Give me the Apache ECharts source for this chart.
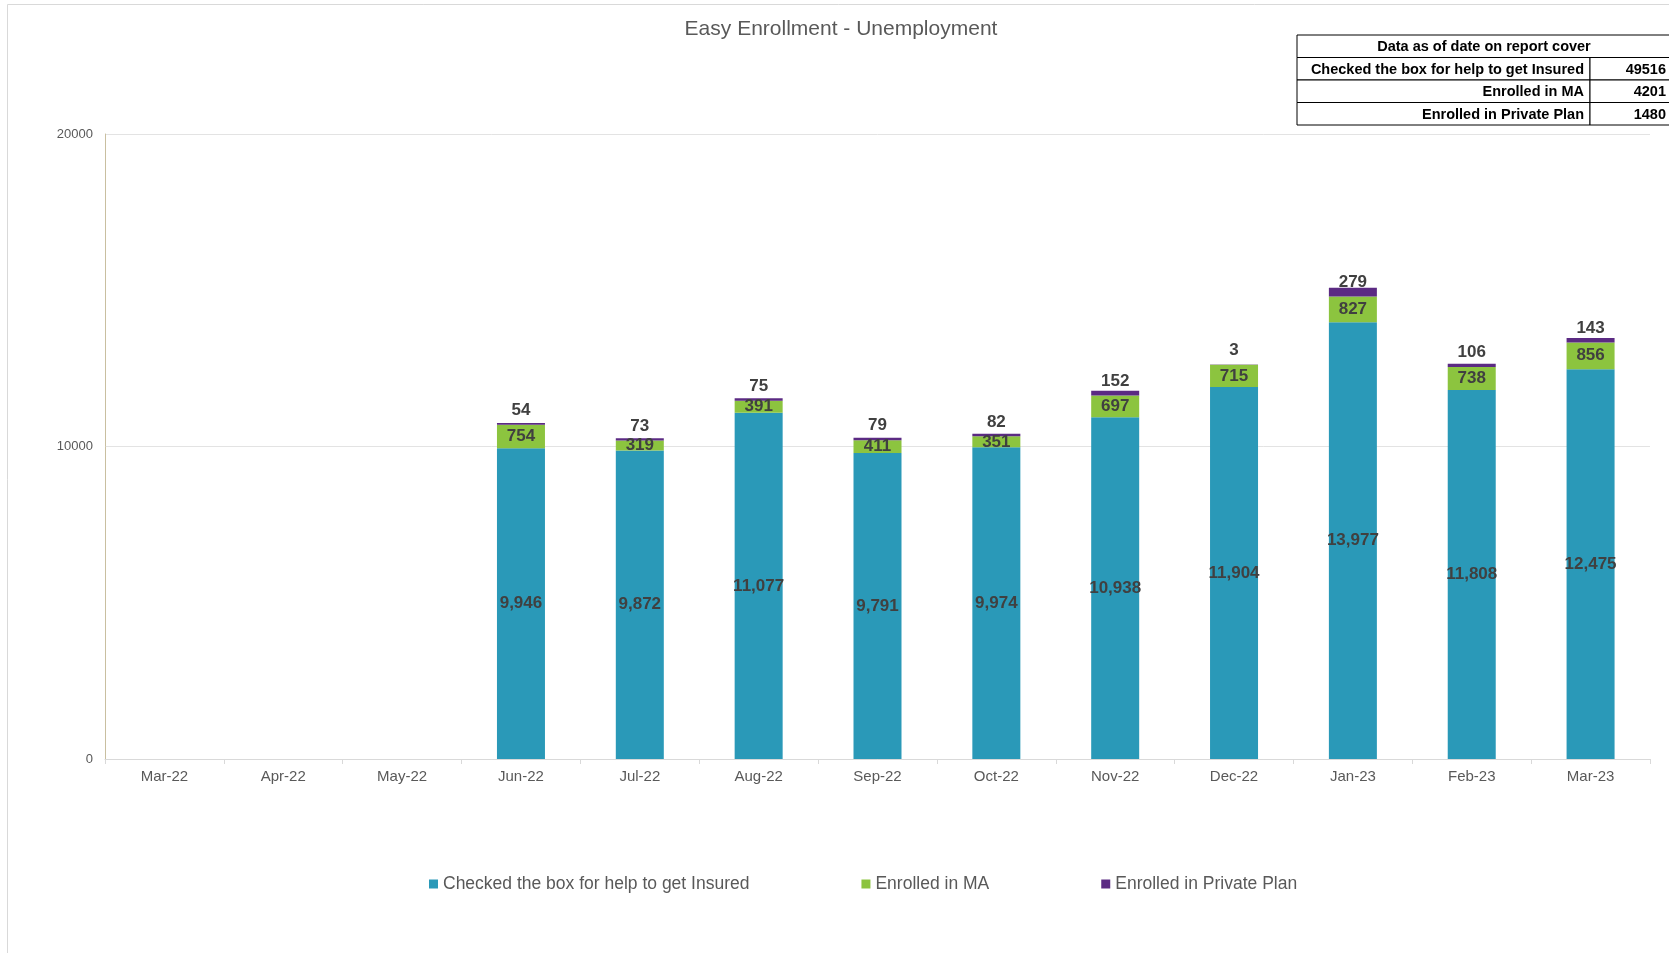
<!DOCTYPE html>
<html><head><meta charset="utf-8">
<script src="https://cdn.jsdelivr.net/npm/echarts@6/dist/echarts.min.js"></script>
<style>html,body{margin:0;padding:0;background:#fff}#c{width:1669px;height:953px}</style>
</head><body><div id="c"></div>
<script>
const categories = ['Mar-22','Apr-22','May-22','Jun-22','Jul-22','Aug-22','Sep-22','Oct-22','Nov-22','Dec-22','Jan-23','Feb-23','Mar-23'];
const checkedBox = [null,null,null,9946,9872,11077,9791,9974,10938,11904,13977,11808,12475];
const enrolledMA = [null,null,null,754,319,391,411,351,697,715,827,738,856];
const privatePlan = [null,null,null,54,73,75,79,82,152,3,279,106,143];
const yTicks = [0,10000,20000];
const tableHeader = 'Data as of date on report cover';
const tableLabels = ['Checked the box for help to get Insured','Enrolled in MA','Enrolled in Private Plan'];
const tableValues = [49516,4201,1480];

const chart = echarts.init(document.getElementById('c'));
const lblFont = {fontFamily:'Liberation Sans, Arial, sans-serif', fontWeight:'bold', fontSize:17, color:'#404040'};
const tFont = 'bold 14.5px "Liberation Sans", Arial, sans-serif';

// table graphic
const tx = 1297, tw1 = 293, tw2 = 85, ty = 35, rh = 22.5;
const g = [];
g.push({type:'rect', shape:{x:7.5,y:4.5,width:1700,height:1000}, style:{fill:'none',stroke:'#d9d9d9',lineWidth:1}, silent:true, z:0});
g.push({type:'rect', shape:{x:tx,y:ty,width:tw1+tw2,height:rh}, style:{fill:'#fff',stroke:'#000',lineWidth:1}});
g.push({type:'text', style:{x:tx+187,y:ty+rh/2+1,text:tableHeader,textAlign:'center',textVerticalAlign:'middle',font:tFont,fill:'#000'}});
for (let i=0;i<tableLabels.length;i++){
  const y = ty + rh*(i+1);
  g.push({type:'rect', shape:{x:tx,y:y,width:tw1,height:rh}, style:{fill:'#fff',stroke:'#000',lineWidth:1}});
  g.push({type:'rect', shape:{x:tx+tw1,y:y,width:tw2,height:rh}, style:{fill:'#fff',stroke:'#000',lineWidth:1}});
  g.push({type:'text', style:{x:tx+tw1-6,y:y+rh/2+1,text:tableLabels[i],textAlign:'right',textVerticalAlign:'middle',font:tFont,fill:'#000'}});
  g.push({type:'text', style:{x:1666,y:y+rh/2+1,text:String(tableValues[i]),textAlign:'right',textVerticalAlign:'middle',font:tFont,fill:'#000'}});
}

chart.setOption({
  animation:false,
  backgroundColor:'#fff',
  title:{text:'Easy Enrollment - Unemployment', left:836, top:14, textAlign:'center',
    textStyle:{fontFamily:'Liberation Sans, Arial, sans-serif', fontWeight:'normal', fontSize:21, color:'#595959'}},
  legend:{bottom:55, left:424, itemGap:112, itemWidth:9, itemHeight:9, icon:'rect',
    textStyle:{fontFamily:'Liberation Sans, Arial, sans-serif', fontSize:17.5, color:'#595959'},
    data:['Checked the box for help to get Insured','Enrolled in MA','Enrolled in Private Plan']},
  grid:{left:105, right:19, top:134, bottom:194},
  xAxis:{type:'category', data:categories,
    axisLine:{lineStyle:{color:'#d9d9d9'}},
    axisTick:{show:true, alignWithLabel:false, length:5, lineStyle:{color:'#d9d9d9'}},
    axisLabel:{fontFamily:'Liberation Sans, Arial, sans-serif', fontSize:15, color:'#595959', margin:10}},
  yAxis:{type:'value', min:0, max:20000, interval:10000,
    axisLine:{show:true, lineStyle:{color:'#c9bfa0'}},
    axisTick:{show:false},
    splitLine:{lineStyle:{color:'#e3e3e3'}},
    axisLabel:{fontFamily:'Liberation Sans, Arial, sans-serif', fontSize:13, color:'#595959', margin:12,
      formatter:v=>yTicks.includes(v)?String(v):''}},
  graphic:g,
  series:[
    {name:'Checked the box for help to get Insured', type:'bar', stack:'s', data:checkedBox, barWidth:48,
      itemStyle:{color:'#2A99B8'},
      label:{show:true, position:'inside', ...lblFont, formatter:p=>p.value==null?'':p.value.toLocaleString('en-US')}},
    {name:'Enrolled in MA', type:'bar', stack:'s', data:enrolledMA, barWidth:48,
      itemStyle:{color:'#8CC43F'},
      label:{show:true, position:'inside', ...lblFont}},
    {name:'Enrolled in Private Plan', type:'bar', stack:'s', data:privatePlan, barWidth:48,
      itemStyle:{color:'#5B2A83'},
      label:{show:true, position:'insideBottom', distance:6, ...lblFont}}
  ]
});
</script></body></html>
